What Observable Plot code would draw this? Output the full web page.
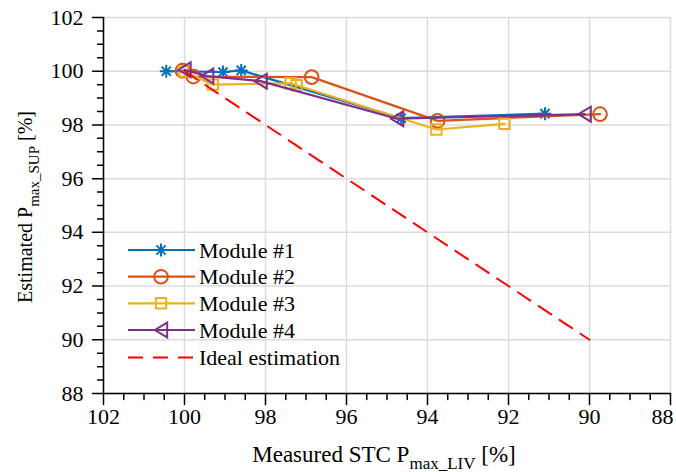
<!DOCTYPE html>
<html>
<head>
<meta charset="utf-8">
<script src="https://cdn.jsdelivr.net/npm/d3@7"></script>
<script src="https://cdn.jsdelivr.net/npm/@observablehq/plot@0.6"></script>
<style>
  html, body { margin: 0; padding: 0; background: #fff; }
  #chart { width: 676px; height: 472px; }
  #chart svg text, #chart svg tspan { font-family: 'Liberation Serif', 'Times New Roman', serif; }
</style>
</head>
<body>
<div id="chart"></div>
<script>
// ---- data ----
const seriesNames = ["Module #1", "Module #2", "Module #3", "Module #4", "Ideal estimation"];
const colors = ["#0072BD", "#D95319", "#EDB120", "#7E2F8E", "#FF0000"];

const x1 = [100.45, 99.05, 98.6, 94.65, 91.1];
const y1 = [100.0, 99.97, 100.03, 98.25, 98.42];

const x2 = [100.05, 99.78, 96.86, 93.75, 89.74];
const y2 = [100.02, 99.8, 99.78, 98.15, 98.4];

const x3 = [100.0, 99.3, 97.38, 97.23, 93.78, 92.1];
const y3 = [100.0, 99.5, 99.55, 99.48, 97.83, 98.04];

const x4 = [100.0, 99.44, 98.12, 94.75, 90.12];
const y4 = [100.05, 99.82, 99.63, 98.23, 98.4];

const xIdeal = [100, 90];
const yIdeal = [100, 90];

const xTicks = [102, 100, 98, 96, 94, 92, 90, 88];
const yTicks = [88, 90, 92, 94, 96, 98, 100, 102];
const minorStep = 0.5;

// ---- helpers ----
const toRows = (xs, ys) => xs.map((x, i) => ({x, y: ys[i]}));
const d1 = toRows(x1, y1), d2 = toRows(x2, y2), d3s = toRows(x3, y3), d4 = toRows(x4, y4);
const dIdeal = toRows(xIdeal, yIdeal);

const rad = (size) => Math.sqrt(size / Math.PI);
const symAsterisk = {
  draw(ctx, size) {
    const r = rad(size), k = r * Math.SQRT1_2;
    ctx.moveTo(-r, 0); ctx.lineTo(r, 0);
    ctx.moveTo(0, -r); ctx.lineTo(0, r);
    ctx.moveTo(-k, -k); ctx.lineTo(k, k);
    ctx.moveTo(-k, k); ctx.lineTo(k, -k);
  }
};
const symCircle = {
  draw(ctx, size) { const r = rad(size) * 1.05; ctx.moveTo(r, 0); ctx.arc(0, 0, r, 0, 2 * Math.PI); }
};
const symSquare = {
  draw(ctx, size) { const r = rad(size) * 0.8; ctx.rect(-r, -r, 2 * r, 2 * r); }
};
const symTriLeft = {
  draw(ctx, size) {
    const r = rad(size);
    ctx.moveTo(-0.95 * r, 0); ctx.lineTo(0.95 * r, -1.15 * r); ctx.lineTo(0.95 * r, 1.15 * r); ctx.closePath();
  }
};
const symbols = [symAsterisk, symCircle, symSquare, symTriLeft];

const tickShape = { draw(ctx, l) { ctx.moveTo(0, 0); ctx.lineTo(0, -l); } };

const xMinor = d3.range(88, 102.001, minorStep).filter(v => !xTicks.includes(v));
const yMinor = d3.range(88, 102.001, minorStep).filter(v => !yTicks.includes(v));

const font = "'Liberation Serif', 'Times New Roman', serif";
const gridColor = "#dcdcdc";
const fs = 22;

const series = [d1, d2, d3s, d4];
const xLabelsInner = xTicks.filter(v => v !== 88);
const xLabelsEdge = xTicks.filter(v => v === 88);

const marks = [
  Plot.ruleX(xTicks, {x: d => d, stroke: gridColor, strokeWidth: 1.5}),
  Plot.ruleY(yTicks, {y: d => d, stroke: gridColor, strokeWidth: 1.5}),
  Plot.axisX({ticks: xLabelsInner, tickSize: 0, tickPadding: 15, fontSize: fs, tickFormat: d => String(d), label: null}),
  Plot.axisX({ticks: xLabelsEdge, tickSize: 0, tickPadding: 15, fontSize: fs, dx: -8, tickFormat: d => String(d), label: null}),
  Plot.axisY({ticks: yTicks, tickSize: 0, tickPadding: 20, fontSize: fs, tickFormat: d => String(d), label: null}),
  // outward ticks
  Plot.vector(xTicks, {x: d => d, y: 88, length: 11, rotate: 180, anchor: "start", shape: tickShape, stroke: "#000", strokeWidth: 1.5}),
  Plot.vector(xMinor, {x: d => d, y: 88, length: 6, rotate: 180, anchor: "start", shape: tickShape, stroke: "#000", strokeWidth: 1.5}),
  Plot.vector(yTicks, {x: 102, y: d => d, length: 11, rotate: -90, anchor: "start", shape: tickShape, stroke: "#000", strokeWidth: 1.5}),
  Plot.vector(yMinor, {x: 102, y: d => d, length: 6, rotate: -90, anchor: "start", shape: tickShape, stroke: "#000", strokeWidth: 1.5}),
  Plot.ruleX([102], {stroke: "#000", strokeWidth: 1.5}),
  Plot.ruleY([88], {stroke: "#000", strokeWidth: 1.5}),
];
series.forEach((d, i) => {
  marks.push(Plot.line(d, {x: "x", y: "y", stroke: colors[i], strokeWidth: 2.2}));
  marks.push(Plot.dot(d, {x: "x", y: "y", symbol: symbols[i], r: 6.5, stroke: colors[i], strokeWidth: 2, fill: "none"}));
});
marks.push(Plot.line(dIdeal, {x: "x", y: "y", stroke: colors[4], strokeWidth: 2, strokeDasharray: "15,10"}));

const chart = Plot.plot({
  width: 676,
  height: 472,
  marginLeft: 103,
  marginRight: 6,
  marginTop: 17,
  marginBottom: 79,
  x: {domain: [102, 88]},
  y: {domain: [88, 102]},
  style: {fontFamily: font, fontSize: fs + "px", background: "#fff", color: "#000", overflow: "visible"},
  marks
});
document.getElementById("chart").appendChild(chart);

// ---- axis titles with subscripts ----
const svg = d3.select(chart);
const xt = svg.append("text")
  .attr("x", 384).attr("y", 462)
  .attr("text-anchor", "middle")
  .attr("font-family", font).attr("font-size", 23).attr("fill", "#000");
xt.append("tspan").text("Measured STC P");
xt.append("tspan").attr("dy", 7).attr("font-size", 17).text("max_LIV");
xt.append("tspan").attr("dy", -7).text(" [%]");

const yt = svg.append("text")
  .attr("transform", "translate(32,207) rotate(-90)")
  .attr("text-anchor", "middle")
  .attr("font-family", font).attr("font-size", 20).attr("fill", "#000");
yt.append("tspan").text("Estimated P");
yt.append("tspan").attr("dy", 7).attr("font-size", 15).text("max_SUP");
yt.append("tspan").attr("dy", -7).text(" [%]");

// ---- legend ----
const legendRows = [250, 276.7, 303.3, 330, 357.5];
const lg = svg.append("g").attr("font-family", font).attr("font-size", fs).attr("text-anchor", "start");
seriesNames.forEach((name, i) => {
  const yy = legendRows[i];
  const line = lg.append("line")
    .attr("x1", 128).attr("x2", 195).attr("y1", yy).attr("y2", yy)
    .attr("stroke", colors[i]).attr("stroke-width", 2.2);
  if (i === 4) line.attr("stroke-dasharray", "15,10").attr("stroke-width", 2);
  if (i < 4) {
    lg.append("path")
      .attr("transform", `translate(161,${yy})`)
      .attr("d", d3.symbol().type(symbols[i]).size(6.5 * 6.5 * Math.PI)())
      .attr("fill", "none").attr("stroke", colors[i]).attr("stroke-width", 2);
  }
  lg.append("text").attr("x", 199).attr("y", yy).attr("dy", "0.35em")
    .attr("text-anchor", "start")
    .attr("fill", "#000").text(name);
});
</script>
</body>
</html>
